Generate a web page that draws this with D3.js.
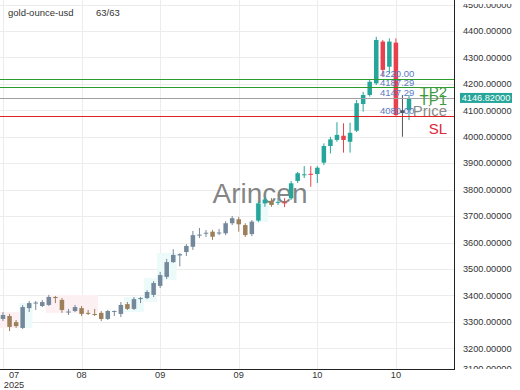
<!DOCTYPE html>
<html>
<head>
<meta charset="utf-8">
<script src="https://cdn.jsdelivr.net/npm/d3@7"></script>
<style>
  html, body { margin: 0; padding: 0; background: #fff; }
  svg { display: block; font-family: "Liberation Sans", Arial, sans-serif; }
</style>
</head>
<body>
<svg id="chart" width="520" height="390"></svg>
<script>
// candle data, index 0..62
const opens  = [3311,3322,3299,3277,3352,3371,3360,3364,3394,3383,3337,3341,3352,3334,3330,3334,3311,3339,3330,3367,3349,3386,3390,3402,3436,3470,3526,3551,3564,3584,3626,3635,3641,3634,3635,3673,3688,3666,3632,3683,3748,3758,3752,3752,3767,3833,3855,3860,3859,3902,3965,3988,4004,3981,4023,4124,4158,4202,4360,4265,4356,4090,4101];
const highs  = [3337,3330,3307,3364,3379,3379,3383,3402,3398,3390,3349,3364,3360,3345,3349,3341,3345,3343,3375,3375,3394,3394,3420,3454,3489,3538,3575,3560,3594,3644,3655,3647,3648,3651,3681,3700,3697,3673,3685,3753,3773,3768,3768,3768,3833,3867,3889,3889,3889,3975,4000,4055,4051,4053,4139,4170,4215,4378,4366,4372,4372,4158,4158];
const lows   = [3303,3265,3277,3273,3337,3345,3356,3360,3371,3334,3326,3337,3322,3326,3322,3303,3307,3322,3318,3345,3345,3371,3386,3394,3428,3462,3523,3510,3549,3572,3617,3621,3610,3628,3628,3666,3641,3621,3624,3677,3735,3735,3742,3734,3761,3825,3844,3811,3825,3893,3937,3981,3940,3940,4018,4095,4152,4196,4227,4240,4075,4000,4063];
const closes = [3326,3281,3284,3356,3371,3373,3375,3394,3392,3345,3339,3356,3330,3332,3326,3311,3341,3341,3364,3349,3386,3390,3413,3447,3477,3526,3553,3556,3587,3628,3630,3637,3622,3638,3673,3692,3669,3628,3679,3748,3763,3742,3754,3748,3824,3862,3858,3856,3883,3965,3990,4007,3988,4015,4127,4158,4208,4366,4253,4360,4082,4100,4146.82];
const fadedUpBefore = 39, fadedDownBefore = 42;

// faint highlighted zones behind the older candles
const zoneFrom = [-0.5, 2.5, 6.5, 18.5, 21.5, 23.5, 38.5];
const zoneTo   = [2.5, 4.5, 14.5, 21.5, 23.5, 26.5, 40.5];
const zoneLo   = [3277, 3277, 3334, 3337, 3375, 3458, 3678];
const zoneHi   = [3337, 3371, 3402, 3394, 3466, 3560, 3761];
const zoneUp   = [false, true, false, true, true, true, true];

// y axis and x axis labels
const yTicks = [3100,3200,3300,3400,3500,3600,3700,3800,3900,4000,4100,4200,4300,4400,4500];
const xTickIdx = [0, 12, 24, 36, 48, 60];
const xTickLabels = ["07", "08", "09", "09", "10", "10"];

// trade levels
const levelNames  = ["TP2", "TP1", "Price", "SL"];
const levelValues = [4220.00, 4187.29, 4147.29, 4080.00];
const levelColors = ["#2b9c2b", "#2b9c2b", "#a0a0a0", "#e02020"];
const levelTextColors = ["#3f9a3f", "#3f9a3f", "#8a8a8a", "#e0263a"];

const symbol = "gold-ounce-usd";
const lastPrice = 4146.82;

const svg = d3.select("#chart");
const plotW = 454, plotH = 369;

const x = d3.scaleLinear().domain([0, 62]).range([3, 409]);
const y = d3.scaleLinear().domain([3200, 4400]).range([348.3, 31]);
const crisp = v => Math.round(v) + 0.5;

const UP = "#26a69a", DOWN = "#e8404e";
const UP_F = "#74889c", DOWN_F = "#9d7f5a";

const defs = svg.append("defs");
defs.append("clipPath").attr("id", "plotclip")
  .append("rect").attr("x", 0).attr("y", 0).attr("width", plotW).attr("height", plotH);
defs.append("clipPath").attr("id", "axisclip")
  .append("rect").attr("x", plotW).attr("y", 4).attr("width", 520 - plotW).attr("height", plotH - 4);

const plot = svg.append("g").attr("clip-path", "url(#plotclip)");

// grid
plot.append("g").selectAll("line").data(yTicks).join("line")
  .attr("x1", 0).attr("x2", plotW)
  .attr("y1", d => crisp(y(d))).attr("y2", d => crisp(y(d)))
  .attr("stroke", "#ececec");
plot.append("g").selectAll("line").data(xTickIdx).join("line")
  .attr("x1", d => crisp(x(d))).attr("x2", d => crisp(x(d)))
  .attr("y1", 0).attr("y2", plotH)
  .attr("stroke", "#ececec");

// zones
const zones = zoneFrom.map((f, i) => ({ f, t: zoneTo[i], lo: zoneLo[i], hi: zoneHi[i], up: zoneUp[i] }));
const step = x(1) - x(0);
plot.append("g").selectAll("rect").data(zones).join("rect")
  .attr("x", d => x(d.f)).attr("width", d => (d.t - d.f) * step)
  .attr("y", d => y(d.hi)).attr("height", d => y(d.lo) - y(d.hi))
  .attr("fill", d => d.up ? "#ecfafa" : "#fdf0f2");

// watermark
plot.append("text").attr("x", 260).attr("y", 203)
  .attr("text-anchor", "middle").attr("font-size", 28)
  .attr("fill", "#6f6f6f").attr("fill-opacity", 0.85)
  .text("Arincen");

// candles
const candles = opens.map((o, i) => ({ i, o, h: highs[i], l: lows[i], c: closes[i] }));
function candleColor(d) {
  const up = d.c >= d.o;
  if (d.i === 61) return "#555";
  if (up) return d.i < fadedUpBefore ? UP_F : UP;
  return d.i < fadedDownBefore ? DOWN_F : DOWN;
}
const cg = plot.append("g").selectAll("g").data(candles).join("g");
cg.append("line")
  .attr("x1", d => x(d.i)).attr("x2", d => x(d.i))
  .attr("y1", d => y(d.h)).attr("y2", d => y(d.l))
  .attr("stroke", candleColor).attr("stroke-width", 1);
cg.append("rect")
  .attr("x", d => x(d.i) - 2.25).attr("width", 4.5)
  .attr("y", d => y(Math.max(d.o, d.c)))
  .attr("height", d => Math.max(1, Math.abs(y(d.o) - y(d.c))))
  .attr("fill", candleColor);

// trade levels
const levels = levelNames.map((n, i) => ({ n, v: levelValues[i], col: levelColors[i], tc: levelTextColors[i] }));
const lg = plot.append("g");
lg.selectAll("line").data(levels).join("line")
  .attr("x1", 0).attr("x2", plotW)
  .attr("y1", d => crisp(y(d.v))).attr("y2", d => crisp(y(d.v)))
  .attr("stroke", d => d.col).attr("stroke-width", 1);
lg.selectAll("text.val").data(levels).join("text").attr("class", "val")
  .attr("x", 380).attr("y", d => y(d.v) - 1.5)
  .attr("font-size", 9.5).attr("fill", "#5a7cc4")
  .text(d => d.v.toFixed(2));
lg.selectAll("text.name").data(levels).join("text").attr("class", "name")
  .attr("x", 447).attr("y", d => y(d.v) + 18)
  .attr("text-anchor", "end").attr("font-size", 15)
  .attr("fill", d => d.tc)
  .text(d => d.n);

// frame
svg.append("line").attr("x1", plotW + 0.5).attr("x2", plotW + 0.5).attr("y1", 0).attr("y2", plotH + 1)
  .attr("stroke", "#222");
svg.append("line").attr("x1", 0).attr("x2", plotW + 1).attr("y1", plotH + 0.5).attr("y2", plotH + 0.5)
  .attr("stroke", "#222");

// y axis labels (edge labels are cut by the pane, as in the original)
const yax = svg.append("g").attr("clip-path", "url(#axisclip)");
yax.selectAll("text").data(yTicks).join("text")
  .attr("x", 463).attr("y", d => Math.min(y(d), plotH)).attr("dy", "0.35em")
  .attr("font-size", 9.2).attr("fill", "#333")
  .text(d => d.toFixed(5));

// last price badge
const ly = y(lastPrice);
svg.append("rect").attr("x", 460).attr("y", ly - 5).attr("width", 52).attr("height", 10)
  .attr("fill", UP);
svg.append("text").attr("x", 486).attr("y", ly).attr("dy", "0.35em")
  .attr("text-anchor", "middle").attr("font-size", 9.2).attr("fill", "#fff")
  .text(lastPrice.toFixed(5));

// x axis labels
const xax = svg.append("g");
xax.selectAll("text").data(xTickIdx).join("text")
  .attr("x", d => Math.max(x(d), 14)).attr("y", 378)
  .attr("text-anchor", "middle").attr("font-size", 9.2).attr("fill", "#333")
  .text((d, i) => xTickLabels[i]);
xax.append("text").attr("x", 14).attr("y", 387.5)
  .attr("text-anchor", "middle").attr("font-size", 9.2).attr("fill", "#333")
  .text("2025");

// legend
svg.append("text").attr("x", 8).attr("y", 16).attr("font-size", 9.5).attr("fill", "#333").text(symbol);
svg.append("text").attr("x", 96).attr("y", 16).attr("font-size", 9.5).attr("fill", "#333")
  .text(candles.length + "/" + candles.length);
</script>
</body>
</html>
